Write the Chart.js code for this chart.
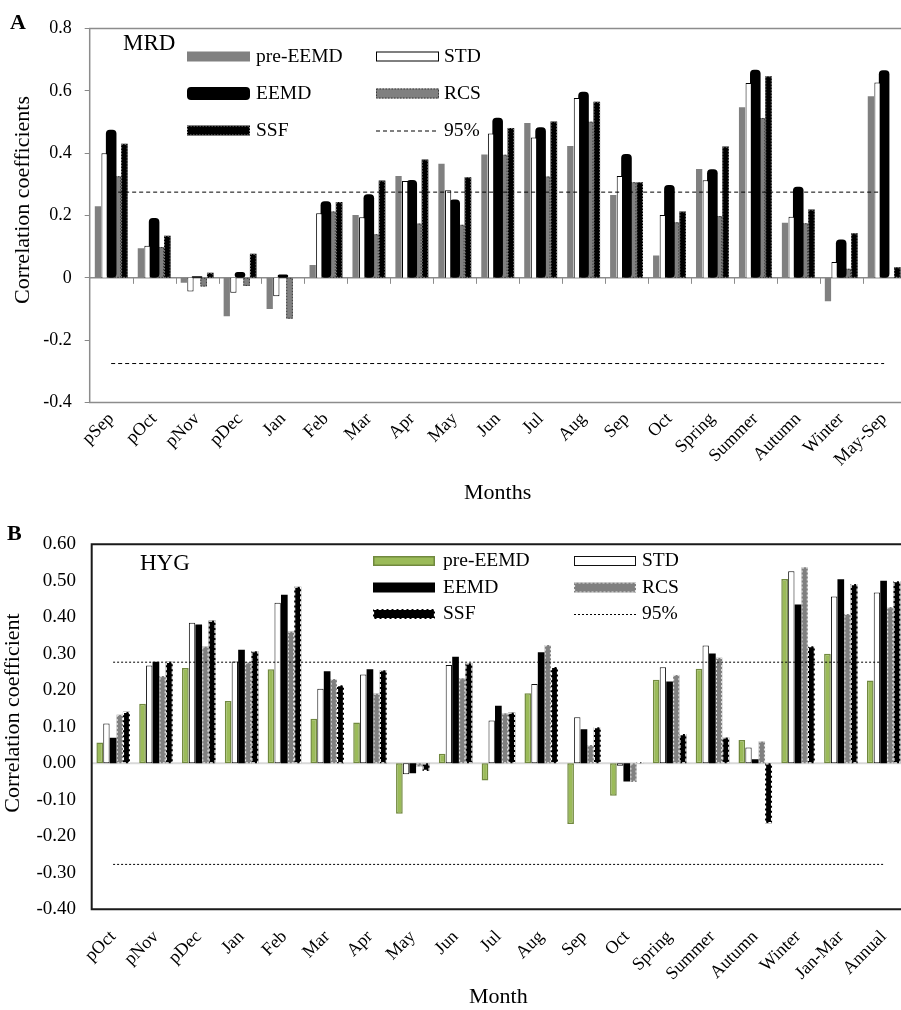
<!DOCTYPE html>
<html>
<head>
<meta charset="utf-8">
<script src="https://cdn.jsdelivr.net/npm/chart.js@4.4.1/dist/chart.umd.min.js"></script>
<style>
  html, body { margin: 0; padding: 0; width: 901px; height: 1010px; overflow: hidden; background: #fff; }
  .panel { position: absolute; left: 0; }
  #wrapA { top: 0; width: 910px; height: 510px; }
  #wrapB { top: 510px; width: 910px; height: 500px; }
</style>
</head>
<body>
<div id="wrapA" class="panel"><canvas id="chartA" width="910" height="510"></canvas></div>
<div id="wrapB" class="panel"><canvas id="chartB" width="910" height="500"></canvas></div>
<script>
// ---- Panel A: MRD site ----
const monthsA = ['pSep', 'pOct', 'pNov', 'pDec', 'Jan', 'Feb', 'Mar', 'Apr', 'May', 'Jun',
                 'Jul', 'Aug', 'Sep', 'Oct', 'Spring', 'Summer', 'Autumn', 'Winter', 'May-Sep'];
const preEemdA = [0.230, 0.095, -0.016, -0.123, -0.100, 0.041, 0.202, 0.327, 0.366, 0.396,
                  0.497, 0.423, 0.266, 0.072, 0.349, 0.547, 0.177, -0.075, 0.583];
const stdA     = [0.400, 0.103, -0.044, -0.048, -0.059, 0.207, 0.194, 0.311, 0.281, 0.463,
                  0.450, 0.577, 0.327, 0.202, 0.313, 0.625, 0.196, 0.051, 0.627];
const eemdA    = [0.475, 0.192, 0.005, 0.019, 0.011, 0.246, 0.268, 0.314, 0.251, 0.514,
                  0.483, 0.597, 0.397, 0.298, 0.348, 0.668, 0.292, 0.123, 0.666];
const rcsA     = [0.326, 0.099, -0.028, -0.026, -0.131, 0.213, 0.140, 0.174, 0.170, 0.395,
                  0.325, 0.501, 0.307, 0.178, 0.198, 0.513, 0.175, 0.029, null];
const ssfA     = [0.430, 0.135, 0.016, 0.077, null, 0.243, 0.312, 0.380, 0.323, 0.481,
                  0.502, 0.565, 0.307, 0.213, 0.421, 0.647, 0.219, 0.143, 0.034];
const sig95A = 0.275;
const yTicksA = { min: -0.4, max: 0.8, step: 0.2, digits: 1 };

// ---- Panel B: HYG site ----
const monthsB = ['pOct', 'pNov', 'pDec', 'Jan', 'Feb', 'Mar', 'Apr', 'May', 'Jun', 'Jul',
                 'Aug', 'Sep', 'Oct', 'Spring', 'Summer', 'Autumn', 'Winter', 'Jan-Mar', 'Annual'];
const preEemdB = [0.057, 0.163, 0.261, 0.171, 0.258, 0.122, 0.112, -0.138, 0.026, -0.047,
                  0.192, -0.166, -0.089, 0.229, 0.259, 0.064, 0.505, 0.300, 0.227];
const stdB     = [0.109, 0.268, 0.385, 0.279, 0.440, 0.204, 0.243, -0.030, 0.269, 0.117,
                  0.217, 0.126, -0.007, 0.263, 0.323, 0.043, 0.526, 0.457, 0.468];
const eemdB    = [0.070, 0.278, 0.380, 0.311, 0.462, 0.252, 0.258, -0.027, 0.292, 0.158,
                  0.304, 0.093, -0.050, 0.224, 0.301, 0.011, 0.435, 0.504, 0.500];
const rcsB     = [0.133, 0.239, 0.320, 0.276, 0.361, 0.231, 0.191, -0.009, 0.233, 0.137,
                  0.324, 0.050, -0.051, 0.242, 0.289, 0.060, 0.537, 0.409, 0.428];
const ssfB     = [0.141, 0.278, 0.391, 0.307, 0.484, 0.214, 0.255, -0.021, 0.274, 0.139,
                  0.264, 0.099, 0.003, 0.080, 0.071, -0.164, 0.321, 0.491, 0.499];
const sig95B = 0.277;
const yTicksB = { min: -0.4, max: 0.6, step: 0.1, digits: 2 };

const SERIF = '"Liberation Serif", "Times New Roman", "DejaVu Serif", serif';

// Two-column legend layout (label per cell, row-major)
const legendCells = [['pre-EEMD', 'STD'], ['EEMD', 'RCS'], ['SSF', '95%']];

function fmtTick(digits) {
  return v => {
    const s = (Math.abs(v) < 1e-9 ? 0 : v).toFixed(digits);
    return digits === 1 && s === '0.0' ? '0' : s;
  };
}

function thresholdLine(cats, value, label, dash) {
  return {
    type: 'line', label: label, order: -1,
    data: [{ x: cats[0], y: value }, { x: cats[cats.length - 1], y: value }],
    borderColor: '#000', borderWidth: 1, borderDash: dash,
    pointRadius: 0, fill: false, tension: 0
  };
}

// Decorations: zero line, frame, dashed bar edges, axis title, in-plot legend and panel labels
const panelDecor = {
  id: 'panelDecor',
  beforeDatasetsDraw(chart, args, o) {
    const { ctx, chartArea: a, scales: { x, y } } = chart;
    const y0 = y.getPixelForValue(0);
    ctx.save();
    ctx.strokeStyle = o.zeroColor;
    ctx.lineWidth = o.zeroWidth;
    ctx.beginPath(); ctx.moveTo(a.left, y0); ctx.lineTo(a.right, y0); ctx.stroke();
    if (o.zeroTicks) {
      ctx.lineWidth = 1;
      const n = chart.data.labels.length;
      for (let i = 1; i < n; i++) {
        const px = Math.round((x.getPixelForValue(i - 1) + x.getPixelForValue(i)) / 2) + 0.5;
        ctx.beginPath(); ctx.moveTo(px, y0); ctx.lineTo(px, y0 + 6); ctx.stroke();
      }
    }
    ctx.restore();
  },
  afterDatasetDraw(chart, args) {
    const ds = chart.data.datasets[args.index];
    if (!ds.edgeDash) return;
    const { ctx } = chart;
    ctx.save();
    ctx.strokeStyle = ds.edgeColor;
    ctx.lineWidth = ds.edgeWidth || 1;
    ctx.setLineDash(ds.edgeDash);
    args.meta.data.forEach((el, i) => {
      if (ds.data[i] === null || ds.data[i] === undefined) return;
      const p = el.getProps(['x', 'y', 'base', 'width'], true);
      const top = Math.min(p.y, p.base), h = Math.abs(p.base - p.y);
      ctx.strokeRect(p.x - p.width / 2 + 0.5, top + 0.5, p.width - 1, Math.max(h - 1, 0));
    });
    ctx.restore();
  },
  afterDraw(chart, args, o) {
    const { ctx, chartArea: a } = chart;
    ctx.save();
    // plot frame (left, top, bottom)
    ctx.strokeStyle = o.frameColor;
    ctx.lineWidth = o.frameWidth;
    ctx.beginPath();
    ctx.moveTo(a.right + 10, a.top); ctx.lineTo(a.left, a.top);
    ctx.lineTo(a.left, a.bottom); ctx.lineTo(a.right + 10, a.bottom);
    ctx.stroke();

    // vertical axis title
    ctx.fillStyle = '#000';
    ctx.save();
    ctx.translate(o.yTitleX, o.yTitleY);
    ctx.rotate(-Math.PI / 2);
    ctx.font = '22px ' + SERIF;
    ctx.textAlign = 'center';
    ctx.textBaseline = 'middle';
    ctx.fillText(o.yTitle, 0, 0);
    ctx.restore();

    // panel letter and site name
    ctx.textBaseline = 'alphabetic';
    ctx.textAlign = 'left';
    ctx.font = 'bold 22px ' + SERIF;
    ctx.fillText(o.letter, o.letterX, o.letterY);
    ctx.font = '23px ' + SERIF;
    ctx.fillText(o.site, o.siteX, o.siteY);

    // legend
    ctx.font = '19.5px ' + SERIF;
    ctx.textBaseline = 'middle';
    legendCells.forEach((row, r) => {
      row.forEach((label, c) => {
        const ds = chart.data.datasets.find(d => d.label === label);
        if (!ds) return;
        const sx = o.swatchX[c], sw = o.swatchW, cy = o.rowY[r];
        if (ds.type === 'line') {
          ctx.save();
          ctx.strokeStyle = ds.borderColor; ctx.lineWidth = ds.borderWidth;
          ctx.setLineDash(ds.borderDash || []);
          ctx.beginPath(); ctx.moveTo(sx, cy + 0.5); ctx.lineTo(sx + sw, cy + 0.5); ctx.stroke();
          ctx.restore();
        } else {
          const sh = ds.borderRadius ? o.swatchH + 3 : o.swatchH;
          const top = cy - sh / 2;
          ctx.save();
          ctx.fillStyle = ds.backgroundColor;
          ctx.beginPath();
          if (ds.borderRadius) ctx.roundRect(sx, top, sw, sh, 4); else ctx.rect(sx, top, sw, sh);
          ctx.fill();
          if (ds.borderWidth) {
            ctx.strokeStyle = ds.borderColor; ctx.lineWidth = ds.borderWidth;
            ctx.strokeRect(sx + ds.borderWidth / 2, top + ds.borderWidth / 2, sw - ds.borderWidth, sh - ds.borderWidth);
          }
          if (ds.edgeDash) {
            ctx.strokeStyle = ds.edgeColor; ctx.lineWidth = ds.edgeWidth || 1;
            ctx.setLineDash(ds.edgeDash);
            ctx.strokeRect(sx + 0.5, top + 0.5, sw - 1, sh - 1);
          }
          ctx.restore();
        }
        ctx.fillStyle = '#000';
        ctx.fillText(label, o.textX[c], cy);
      });
    });
    ctx.restore();
  }
};

function buildOptions(cfg) {
  return {
    responsive: false,
    animation: false,
    events: [],
    layout: { padding: { top: cfg.top, right: cfg.padRight, left: 0, bottom: 0 } },
    plugins: {
      legend: { display: false },
      tooltip: { enabled: false },
      panelDecor: cfg.decor
    },
    scales: {
      x: {
        type: 'category',
        offset: true,
        // hidden tick marks: their length only shifts the labels down
        grid: { display: false, drawTicks: true, tickLength: cfg.xTickGap },
        border: { display: false },
        ticks: {
          autoSkip: false, maxRotation: 45, minRotation: 45,
          padding: cfg.xPad, color: '#000',
          font: { family: SERIF, size: 18 }
        },
        title: {
          display: true, text: cfg.xTitle, color: '#000',
          font: { family: SERIF, size: 22 },
          padding: { top: 0, bottom: cfg.xTitlePad }
        },
        afterFit(s) { s.height = cfg.xHeight; }
      },
      y: {
        min: cfg.yTicks.min, max: cfg.yTicks.max,
        ticks: {
          stepSize: cfg.yTicks.step, padding: cfg.yPad, color: '#000',
          font: { family: SERIF, size: cfg.yFont },
          callback: fmtTick(cfg.yTicks.digits)
        },
        grid: cfg.yGrid,
        border: { display: false },
        title: { display: false },
        afterFit(s) { s.width = cfg.yWidth; }
      }
    }
  };
}

// ---------- Chart A ----------
new Chart(document.getElementById('chartA'), {
  type: 'bar',
  plugins: [panelDecor],
  data: {
    labels: monthsA,
    datasets: [
      { label: 'pre-EEMD', data: preEemdA, backgroundColor: '#808080', borderWidth: 0,
        categoryPercentage: 0.77, barPercentage: 0.95 },
      { label: 'STD', data: stdA, backgroundColor: '#ffffff', borderColor: '#000', borderWidth: 1,
        categoryPercentage: 0.77, barPercentage: 0.95 },
      { label: 'EEMD', data: eemdA, backgroundColor: '#000', borderWidth: 0, borderRadius: 4,
        borderSkipped: false, categoryPercentage: 0.77, barPercentage: 1.6 },
      { label: 'RCS', data: rcsA, backgroundColor: '#808080', borderWidth: 0,
        edgeDash: [1.5, 1.5], edgeColor: '#3a3a3a', edgeWidth: 1,
        categoryPercentage: 0.77, barPercentage: 1.0 },
      { label: 'SSF', data: ssfA, backgroundColor: '#000', borderWidth: 0,
        edgeDash: [1.5, 1.5], edgeColor: '#8a8a8a', edgeWidth: 1,
        categoryPercentage: 0.77, barPercentage: 1.0 },
      thresholdLine(monthsA, sig95A, '95%', [4, 3]),
      thresholdLine(monthsA, -sig95A, '95% lower', [4, 3])
    ]
  },
  options: buildOptions({
    top: 28.5, padRight: 910 - 905.6,
    xHeight: 510 - 402.5, yWidth: 89.7,
    xTickGap: 0, xPad: 6, xTitle: 'Months', xTitlePad: 4,
    yPad: 13, yFont: 18,
    yTicks: yTicksA,
    yGrid: { display: true, drawOnChartArea: false, drawTicks: true, tickLength: 5, color: '#888', lineWidth: 1 },
    decor: {
      zeroColor: '#8c8c8c', zeroWidth: 1.5, zeroTicks: true,
      frameColor: '#8c8c8c', frameWidth: 1.5,
      yTitle: 'Correlation coefficients', yTitleX: 23, yTitleY: 200,
      letter: 'A', letterX: 10, letterY: 29,
      site: 'MRD', siteX: 123, siteY: 50,
      swatchX: [187, 376], swatchW: 63, swatchH: 10,
      textX: [256, 444], rowY: [56.5, 93.5, 130.5]
    }
  })
});

// ---------- Chart B ----------
new Chart(document.getElementById('chartB'), {
  type: 'bar',
  plugins: [panelDecor],
  data: {
    labels: monthsB,
    datasets: [
      { label: 'pre-EEMD', data: preEemdB, backgroundColor: '#9bbb59', borderColor: '#71893f', borderWidth: 1.5,
        borderSkipped: false, categoryPercentage: 0.78, barPercentage: 1.0 },
      { label: 'STD', data: stdB, backgroundColor: '#ffffff', borderColor: '#111', borderWidth: 1,
        borderSkipped: false, categoryPercentage: 0.78, barPercentage: 0.95 },
      { label: 'EEMD', data: eemdB, backgroundColor: '#000', borderWidth: 0,
        categoryPercentage: 0.78, barPercentage: 1.0 },
      { label: 'RCS', data: rcsB, backgroundColor: '#808080', borderWidth: 0,
        edgeDash: [2, 2], edgeColor: '#e6e6e6', edgeWidth: 1.2,
        categoryPercentage: 0.78, barPercentage: 0.95 },
      { label: 'SSF', data: ssfB, backgroundColor: '#000', borderWidth: 0,
        edgeDash: [3, 2], edgeColor: '#ffffff', edgeWidth: 1.2,
        categoryPercentage: 0.78, barPercentage: 1.05 },
      thresholdLine(monthsB, sig95B, '95%', [2, 2]),
      thresholdLine(monthsB, -sig95B, '95% lower', [2, 2])
    ]
  },
  options: buildOptions({
    top: 34.3, padRight: 910 - 905,
    xHeight: 500 - 399.3, yWidth: 91.7,
    xTickGap: 8, xPad: 9, xTitle: 'Month', xTitlePad: 0,
    yPad: 15.7, yFont: 19,
    yTicks: yTicksB,
    yGrid: { display: false, drawTicks: false },
    decor: {
      zeroColor: '#d9d9d9', zeroWidth: 2, zeroTicks: false,
      frameColor: '#1a1a1a', frameWidth: 2,
      yTitle: 'Correlation coefficient', yTitleX: 13, yTitleY: 203,
      letter: 'B', letterX: 7, letterY: 30,
      site: 'HYG', siteX: 140, siteY: 60,
      swatchX: [373, 574], swatchW: 62, swatchH: 10,
      textX: [443, 642], rowY: [51, 77.5, 104]
    }
  })
});
</script>
</body>
</html>
